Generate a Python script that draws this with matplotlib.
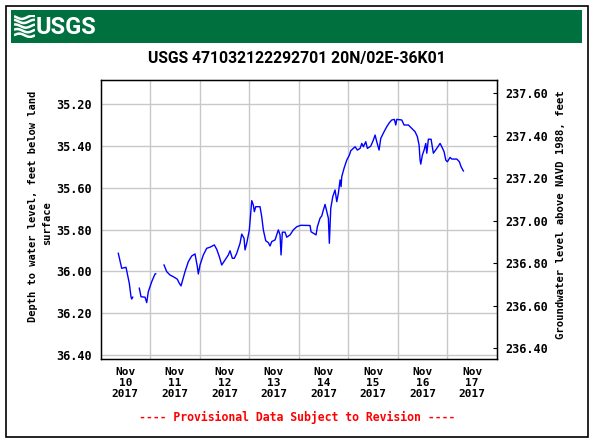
import numpy as np
import matplotlib
matplotlib.use("Agg")
import matplotlib.pyplot as plt
from matplotlib.patches import Rectangle

# ── Data ─────────────────────────────────────────────────────────────────────
# hours since 2017-11-10 00:00, depth to water level (ft below land surface)
# NaN entries mark gaps in the record
HOURS = [8.62, 10.27, 12.35, 12.69, 13.95, 14.77, 15.11, 15.60, np.nan,
         18.79, 19.62, 21.55, 22.38, 23.15, 24.80, 26.40, 26.74, np.nan,
         30.76, 32.06, 33.66, 35.26, 37.20, 38.02, 38.99, 39.81, 40.93, 42.53,
         44.17, 45.77, 46.89, 47.37, 48.19, 49.79, 51.44, 53.04, 55.12, 56.28,
         57.54, 58.70, 60.30, 61.90, 62.72, 63.84, 64.81, 65.97, 67.57, 68.39,
         69.51, 69.99, 70.81, 72.07, 73.24, 74.01, 74.49, 75.17, 77.25, 78.08,
         78.85, 80.02, 81.28, 82.10, 82.92, 84.52, 86.12, 86.94, 87.43, 88.06,
         89.36, 90.19, 91.79, 93.38, 95.03, 96.97, 101.47, 101.96, 103.07,
         104.38, 105.01, 106.32, 107.14, 107.91, 108.74, 109.56, 110.34,
         110.82, 111.50, 112.47, 113.58, 114.41, 115.18, 116.01, 116.49,
         116.83, 117.94, 119.25, 120.51, 121.19, 123.27, 124.39, 125.69,
         126.52, 127.29, 128.45, 129.23, 130.87, 132.13, 132.96, 133.78,
         134.89, 135.72, 137.32, 138.62, 139.88, 141.04, 142.30, 142.98,
         143.47, 145.89, 147.00, 149.09, 150.73, 152.33, 153.44, 154.27,
         154.75, 155.09, 155.86, 156.69, 157.51, 158.00, 158.77, 160.08,
         161.19, 162.84, 164.44, 165.26, 166.38, 167.20, 167.97, 169.28,
         170.11, 172.53, 173.79, 174.61, 175.73]
DEPTH = [35.913, 35.985, 35.980, 35.996, 36.057, 36.121, 36.132, 36.123, np.nan,
         36.080, 36.121, 36.123, 36.149, 36.097, 36.049, 36.012, 36.011, np.nan,
         35.969, 36.001, 36.017, 36.025, 36.037, 36.054, 36.069, 36.041, 36.001,
         35.953, 35.926, 35.916, 35.977, 36.012, 35.969, 35.921, 35.889, 35.884,
         35.873, 35.894, 35.929, 35.969, 35.945, 35.921, 35.901, 35.937, 35.937,
         35.913, 35.865, 35.821, 35.841, 35.897, 35.865, 35.801, 35.661, 35.682,
         35.714, 35.690, 35.690, 35.738, 35.801, 35.853, 35.862, 35.878, 35.857,
         35.849, 35.801, 35.825, 35.921, 35.812, 35.812, 35.836, 35.825, 35.801,
         35.786, 35.779, 35.780, 35.810, 35.817, 35.825, 35.786, 35.745, 35.734,
         35.706, 35.679, 35.714, 35.745, 35.865, 35.698, 35.642, 35.610, 35.666,
         35.626, 35.562, 35.594, 35.546, 35.506, 35.467, 35.443, 35.422, 35.403,
         35.419, 35.411, 35.387, 35.403, 35.379, 35.411, 35.400, 35.371, 35.347,
         35.379, 35.419, 35.363, 35.331, 35.307, 35.288, 35.275, 35.272, 35.299,
         35.272, 35.275, 35.299, 35.299, 35.315, 35.331, 35.355, 35.395, 35.467,
         35.486, 35.443, 35.419, 35.387, 35.434, 35.367, 35.367, 35.434, 35.411,
         35.387, 35.403, 35.427, 35.467, 35.475, 35.454, 35.462, 35.462, 35.475,
         35.499, 35.519]

DAY_LABELS   = ["Nov\n10\n2017", "Nov\n11\n2017", "Nov\n12\n2017", "Nov\n13\n2017",
                "Nov\n14\n2017", "Nov\n15\n2017", "Nov\n16\n2017", "Nov\n17\n2017"]
DEPTH_TICKS  = [35.20, 35.40, 35.60, 35.80, 36.00, 36.20, 36.40]
ELEV_TICKS   = [236.40, 236.60, 236.80, 237.00, 237.20, 237.40, 237.60]

TITLE = "USGS 471032122292701 20N/02E-36K01"
LEFT_LABEL = ["Depth to water level, feet below land", "surface"]
RIGHT_LABEL = "Groundwater level above NAVD 1988, feet"
NOTE = "---- Provisional Data Subject to Revision ----"

# ── Style ────────────────────────────────────────────────────────────────────
W, H = 593, 442
MONO = "DejaVu Sans Mono"
NARROW = ["Roboto", "DejaVu Sans"]
GREEN = "#00703f"
GRID = "#c8c8c8"

fig = plt.figure(figsize=(W / 100, H / 100), dpi=100)

def fx(px):
    return px / W

def fy(py):
    return 1 - py / H

# outer frame + banner
fig.patches.append(Rectangle((fx(5.5), fy(436.5)), fx(582), (431) / H,
                             transform=fig.transFigure, fill=False,
                             edgecolor="black", lw=1.2))
fig.patches.append(Rectangle((fx(11), fy(43)), fx(571), 33 / H,
                             transform=fig.transFigure, facecolor=GREEN,
                             edgecolor="none"))

# USGS logo (approximate): wave mark + letters
logo = fig.add_axes([fx(14), fy(38), fx(21), 23 / H])
logo.set_zorder(3)
logo.set_axis_off()
logo.set_xlim(0, 1)
logo.set_ylim(0, 1)
s = np.linspace(0, 1, 40)
for k, off in enumerate([0.12, 0.32, 0.52, 0.72, 0.90]):
    logo.plot(s, off + 0.07 * np.sin(2 * np.pi * s + k * 0.6), color="white",
              lw=1.8, solid_capstyle="butt")
fig.text(fx(36), fy(27), "USGS", color="white", fontsize=17, fontweight="bold",
         family=NARROW, ha="left", va="center")

fig.text(fx(297), fy(58), TITLE, fontsize=11.3, fontweight="bold",
         family=NARROW, ha="center", va="center")

# ── Main axes ────────────────────────────────────────────────────────────────
ax = fig.add_axes([fx(100.5), fy(359), fx(396.5), (359 - 80.3) / H])
days = np.array(HOURS) / 24.0
ax.plot(days, DEPTH, color="#0000ff", lw=1.0)

ax.set_xlim(0, 8)
ax.set_ylim(36.419, 35.085)
ax.set_xticks(np.arange(8) + 0.5)
ax.set_xticklabels(DAY_LABELS, fontsize=8, fontweight="bold", family=MONO,
                   linespacing=1.1)
ax.set_xticks(np.arange(1, 8), minor=True)
ax.set_yticks(DEPTH_TICKS)
ax.set_yticklabels([f"{v:.2f}" for v in DEPTH_TICKS], fontsize=8.5,
                   fontweight="bold", family=MONO)
ax.tick_params(axis="x", which="both", length=0, pad=6)
ax.tick_params(axis="y", length=0, pad=6)
ax.grid(True, which="minor", axis="x", color=GRID, lw=1)
ax.grid(True, which="major", axis="y", color=GRID, lw=1)
for sp in ax.spines.values():
    sp.set_linewidth(1.0)

ax2 = ax.twinx()
ax2.set_ylim(236.350, 237.661)
ax2.set_yticks(ELEV_TICKS)
ax2.set_yticklabels([f"{v:.2f}" for v in ELEV_TICKS], fontsize=8.5,
                    fontweight="bold", family=MONO)
ax2.tick_params(axis="y", direction="in", length=3, pad=6)

# axis titles
fig.text(fx(33), fy(206), LEFT_LABEL[0], rotation=90, fontsize=7.5,
         fontweight="bold", family=MONO, ha="center", va="center")
fig.text(fx(47), fy(223), LEFT_LABEL[1], rotation=90, fontsize=7.5,
         fontweight="bold", family=MONO, ha="center", va="center")
fig.text(fx(561), fy(214.5), RIGHT_LABEL, rotation=90, fontsize=7.7,
         fontweight="bold", family=MONO, ha="center", va="center")

fig.text(fx(297), fy(417), NOTE, color="red", fontsize=8.3, fontweight="bold",
         family=MONO, ha="center", va="center")

fig.savefig("out.png", dpi=100)
